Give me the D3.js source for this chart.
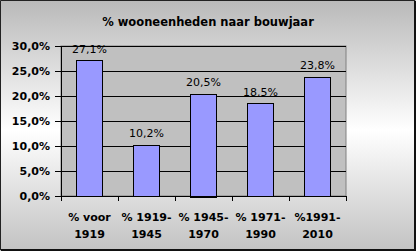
<!DOCTYPE html>
<html>
<head>
<meta charset="utf-8">
<script src="https://cdn.jsdelivr.net/npm/d3@7"></script>
<style>
  body { margin: 0; padding: 0; }
  svg { display: block; }
  text { font-family: "DejaVu Sans", Verdana, sans-serif; }
</style>
</head>
<body>
<svg id="chart"></svg>
<script>
// data
var categories = ["% voor 1919", "% 1919-1945", "% 1945-1970", "% 1971-1990", "%1991-2010"];
var catLine1 = ["% voor", "% 1919-", "% 1945-", "% 1971-", "%1991-"];
var catLine2 = ["1919", "1945", "1970", "1990", "2010"];
var values = [27.1, 10.2, 20.5, 18.5, 23.8];
var yTicks = [0, 5, 10, 15, 20, 25, 30];
var title = "% wooneenheden naar bouwjaar";

var width = 416, height = 251,
    margin = {top: 46, right: 70, bottom: 55, left: 61};

var fmt = function(v) { return d3.format(".1f")(v).replace(".", ",") + "%"; };

var svg = d3.select("#chart")
    .attr("width", width)
    .attr("height", height);

/* background gradient */
var grad = svg.append("defs").append("linearGradient")
    .attr("id", "bg")
    .attr("x1", 0).attr("y1", 0).attr("x2", 0).attr("y2", 1);
grad.append("stop").attr("offset", "0%").attr("stop-color", "#b9b9b9");
grad.append("stop").attr("offset", "52%").attr("stop-color", "#ffffff");
grad.append("stop").attr("offset", "100%").attr("stop-color", "#c2c2c2");

svg.append("rect")
    .attr("x", 0).attr("y", 0)
    .attr("width", width).attr("height", height)
    .attr("fill", "url(#bg)");

// border: thin top/left, thicker right/bottom
svg.append("path")
    .attr("d", "M0.5,250 V0.5 H415")
    .attr("fill", "none").attr("stroke", "#222").attr("stroke-width", 1);
svg.append("path")
    .attr("d", "M1,250 H415 V1")
    .attr("fill", "none").attr("stroke", "#111").attr("stroke-width", 2);

svg.append("text")
    .attr("x", 208).attr("y", 26)
    .attr("text-anchor", "middle")
    .style("font-size", "11.5px").style("font-weight", "bold")
    .text(title);

var innerWidth = width - margin.left - margin.right;
var innerHeight = height - margin.top - margin.bottom;

var g = svg.append("g")
    .attr("transform", "translate(" + margin.left + "," + margin.top + ")");

/* scales */
var x = d3.scaleBand()
    .domain(categories)
    .range([0, innerWidth])
    .paddingInner(0.54)
    .paddingOuter(0.27);

var y = d3.scaleLinear()
    .domain([0, 30])
    .range([innerHeight, 0]);

/* plot area */
g.append("rect")
    .attr("width", innerWidth).attr("height", innerHeight)
    .attr("fill", "#c0c0c0")
    .attr("stroke", "#808080");

// gridlines
g.selectAll("line.grid")
    .data(yTicks.slice(1))
  .enter().append("line")
    .attr("class", "grid")
    .attr("x1", 0).attr("x2", innerWidth)
    .attr("y1", function(d) { return Math.round(y(d)) + 0.5; })
    .attr("y2", function(d) { return Math.round(y(d)) + 0.5; })
    .attr("stroke", "#000");

// bars
g.selectAll("rect.bar")
    .data(values)
  .enter().append("rect")
    .attr("class", "bar")
    .attr("x", function(d, i) { return Math.round(x(categories[i])) + 0.5; })
    .attr("y", function(d) { return Math.round(y(d)) + 0.5; })
    .attr("width", Math.round(x.bandwidth()))
    .attr("height", function(d) { return Math.round(innerHeight - y(d)); })
    .attr("fill", "#9999ff")
    .attr("stroke", "#000")
    .attr("stroke-width", 1);

// value labels
g.selectAll("text.val")
    .data(values)
  .enter().append("text")
    .attr("class", "val")
    .attr("x", function(d, i) { return x(categories[i]) + x.bandwidth() / 2; })
    .attr("y", function(d) { return y(d) - 8; })
    .attr("text-anchor", "middle")
    .style("font-size", "11px")
    .text(fmt);

/* axes */
var yAxis = d3.axisLeft(y)
    .tickValues(yTicks)
    .tickSize(6)
    .tickFormat(fmt);

var ya = g.append("g").call(yAxis);
ya.select(".domain").attr("stroke", "#000").attr("d", "M0.5,0V" + innerHeight);
ya.selectAll("text")
    .attr("x", -11)
    .style("font-size", "11px").style("font-weight", "bold")
    .style("font-family", "DejaVu Sans, sans-serif")
    .attr("fill", "#000");

// category axis with ticks at band boundaries
var xa = g.append("g").attr("transform", "translate(0," + innerHeight + ")");
xa.append("line")
    .attr("x1", -6).attr("x2", innerWidth)
    .attr("y1", 0.5).attr("y2", 0.5)
    .attr("stroke", "#000");
var step = x.step();
xa.selectAll("line.tick")
    .data(d3.range(categories.length + 1))
  .enter().append("line")
    .attr("class", "tick")
    .attr("x1", function(i) { return Math.round(i * step) + 0.5; })
    .attr("x2", function(i) { return Math.round(i * step) + 0.5; })
    .attr("y1", 0).attr("y2", 5)
    .attr("stroke", "#000");

xa.selectAll("text.cat1")
    .data(categories)
  .enter().append("text")
    .attr("class", "cat1")
    .attr("text-anchor", "middle")
    .attr("x", function(d) { return x(d) + x.bandwidth() / 2; })
    .attr("y", 25)
    .style("font-size", "11px").style("font-weight", "bold")
    .text(function(d, i) { return catLine1[i]; });

xa.selectAll("text.cat2")
    .data(categories)
  .enter().append("text")
    .attr("class", "cat2")
    .attr("text-anchor", "middle")
    .attr("x", function(d) { return x(d) + x.bandwidth() / 2; })
    .attr("y", 42)
    .style("font-size", "11px").style("font-weight", "bold")
    .text(function(d, i) { return catLine2[i]; });
</script>
</body>
</html>
